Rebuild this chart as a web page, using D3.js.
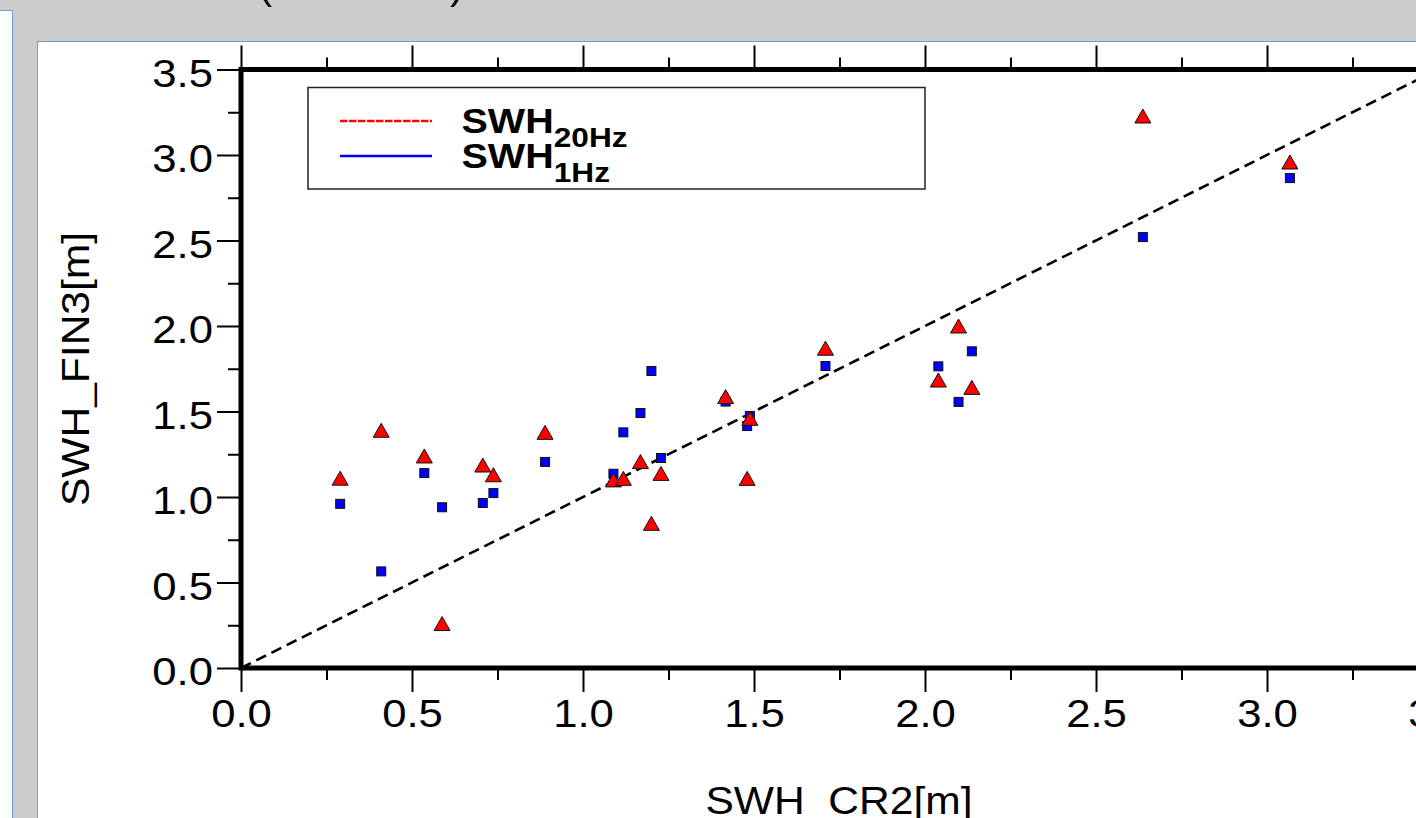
<!DOCTYPE html>
<html>
<head>
<meta charset="utf-8">
<script src="https://cdn.jsdelivr.net/npm/d3@7"></script>
<style>
  html, body { margin: 0; padding: 0; background: #cccccc; overflow: hidden; }
  svg { display: block; font-family: "Liberation Sans", Arial, sans-serif; }
</style>
</head>
<body>
<div id="chart"></div>
<script>
// SWH from CR2 (x) against SWH from FIN3 (y), 20Hz and 1Hz
const swhCR2  = [0.29, 0.41, 0.536, 0.588, 0.707, 0.738, 0.889, 1.089, 1.118, 1.168, 1.20,
                 1.228, 1.417, 1.48, 1.488, 1.709, 2.039, 2.098, 2.137, 2.637, 3.067];
const swh20Hz = [1.11, 1.39, 1.24, 0.26, 1.187, 1.13, 1.378, 1.10, 1.109, 1.207, 0.846,
                 1.138, 1.587, 1.109, 1.46, 1.87, 1.684, 2.0, 1.641, 3.228, 2.959];
const swh1Hz  = [0.96, 0.565, 1.14, 0.94, 0.965, 1.023, 1.205, 1.136, 1.378, 1.491, 1.737,
                 1.228, 1.558, 1.415, 1.474, 1.766, 1.764, 1.556, 1.852, 2.52, 2.865];

const majorTicks = [0, 0.5, 1.0, 1.5, 2.0, 2.5, 3.0, 3.5];
const minorTicks = [0.25, 0.75, 1.25, 1.75, 2.25, 2.75, 3.25];
const legendNames = ["SWH", "SWH"];
const legendSubs = ["20Hz", "1Hz"];
const xTitle = "SWH_CR2[m]";
const yTitle = "SWH_FIN3[m]";
const chartTitle = "(CR2/FIN3)";

const W = 1416, H = 818;
// plot box in page pixels (right side runs off the window)
let margin = {top: 69.5, left: 241},
    width = 1438 - margin.left,
    height = 668 - margin.top;
const stretch = 1.12;   // the original text is a bit wide

let svg = d3.select("#chart").append("svg")
    .attr("width", W)
    .attr("height", H);

// window panels
svg.append("rect").attr("x", -2).attr("y", 10.5).attr("width", 14.5).attr("height", H)
    .attr("fill", "#fff").attr("stroke", "#6c9fd0").attr("stroke-width", 1);
svg.append("rect").attr("x", 37.5).attr("y", 41.5).attr("width", W).attr("height", H)
    .attr("fill", "#fff").attr("stroke", "#6c9fd0").attr("stroke-width", 1);

// title, mostly cut off at the top
svg.append("text")
    .attr("transform", "translate(361,-1)")
    .attr("text-anchor", "middle")
    .style("font-size", "40px")
    .text(chartTitle);

let g = svg.append("g")
    .attr("transform", "translate(" + margin.left + "," + margin.top + ")");

let x = d3.scaleLinear().domain([0, 3.5]).range([0, width]);
let y = d3.scaleLinear().domain([0, 3.5]).range([height, 0]);
const fmt = d3.format(".1f");

// minor ticks
g.append("g").call(d3.axisLeft(y).tickValues(minorTicks).tickSize(13).tickFormat(""));
g.append("g").attr("transform", "translate(0," + height + ")")
    .call(d3.axisBottom(x).tickValues(minorTicks).tickSize(12).tickFormat(""));
g.append("g").call(d3.axisTop(x).tickValues(minorTicks).tickSize(12).tickFormat(""));

// major ticks
let yAxis = g.append("g").call(d3.axisLeft(y).tickValues(majorTicks).tickSize(24).tickFormat(fmt));
let xAxis = g.append("g").attr("transform", "translate(0," + height + ")")
    .call(d3.axisBottom(x).tickValues(majorTicks).tickSize(24).tickFormat(fmt));
g.append("g").call(d3.axisTop(x).tickValues(majorTicks).tickSize(24).tickFormat(""));

g.selectAll(".domain").remove();
g.selectAll(".tick line").attr("stroke", "#000").attr("stroke-width", 2);

yAxis.selectAll("text")
    .attr("x", null).attr("dy", null)
    .attr("text-anchor", "end")
    .attr("fill", "#000")
    .style("font-size", "39px")
    .style("font-family", "Liberation Sans, Arial, sans-serif")
    .attr("transform", "translate(-28,16.5) scale(" + stretch + ",1)");
xAxis.selectAll("text")
    .attr("y", null).attr("dy", null)
    .attr("text-anchor", "middle")
    .attr("fill", "#000")
    .style("font-size", "39px")
    .style("font-family", "Liberation Sans, Arial, sans-serif")
    .attr("transform", "translate(0,59) scale(" + stretch + ",1)");

// 1:1 line
g.append("path")
    .datum([0, 3.5])
    .attr("fill", "none")
    .attr("stroke", "#000")
    .attr("stroke-width", 2.6)
    .attr("stroke-dasharray", "11,6")
    .attr("d", d3.line().x(d => x(d)).y(d => y(d)));

// frame
g.append("path")
    .attr("fill", "none")
    .attr("stroke", "#000")
    .attr("stroke-width", 5)
    .attr("d", "M" + width + ",0H0V" + height + "H" + width);

// 1Hz squares
g.selectAll(".sq")
    .data(swhCR2)
    .enter().append("rect")
    .attr("class", "sq")
    .attr("x", (d, i) => x(d) - 4.5)
    .attr("y", (d, i) => y(swh1Hz[i]) - 4.5)
    .attr("width", 9)
    .attr("height", 9)
    .attr("fill", "#0000ff")
    .attr("stroke", "#111")
    .attr("stroke-width", 1);

// 20Hz triangles
g.selectAll(".tri")
    .data(swhCR2)
    .enter().append("path")
    .attr("class", "tri")
    .attr("d", (d, i) => {
        let cx = x(d), cy = y(swh20Hz[i]);
        return "M" + cx + "," + (cy - 7) + "L" + (cx + 8) + "," + (cy + 7) + "L" + (cx - 8) + "," + (cy + 7) + "Z";
    })
    .attr("fill", "#ff0000")
    .attr("stroke", "#111")
    .attr("stroke-width", 1);

// legend
let legend = svg.append("g");
legend.append("rect")
    .attr("x", 308).attr("y", 87.5).attr("width", 617).attr("height", 101.5)
    .attr("fill", "#fff").attr("stroke", "#222").attr("stroke-width", 1.5);

legend.append("line")
    .attr("x1", 340).attr("x2", 432).attr("y1", 121).attr("y2", 121)
    .attr("stroke", "#ff0000").attr("stroke-width", 2.4)
    .attr("stroke-dasharray", "7.5,1.5");
legend.append("line")
    .attr("x1", 340).attr("x2", 432).attr("y1", 156).attr("y2", 156)
    .attr("stroke", "#0000ff").attr("stroke-width", 2.4);

legendNames.forEach(function(name, i) {
    let t = legend.append("text")
        .attr("transform", "translate(461.5," + (133 + i * 35) + ") scale(1.13,1)")
        .style("font-weight", "bold")
        .style("font-size", "35px");
    t.append("tspan").text(name);
    t.append("tspan").attr("dy", 14).style("font-size", "28px").text(legendSubs[i]);
});

// axis titles
svg.append("text")
    .attr("transform", "translate(839,814) scale(" + stretch + ",1)")
    .attr("text-anchor", "middle")
    .style("font-size", "38px")
    .text(xTitle);
svg.append("text")
    .attr("transform", "translate(89,369) rotate(-90) scale(" + stretch + ",1)")
    .attr("text-anchor", "middle")
    .style("font-size", "38px")
    .text(yTitle);
</script>
</body>
</html>
